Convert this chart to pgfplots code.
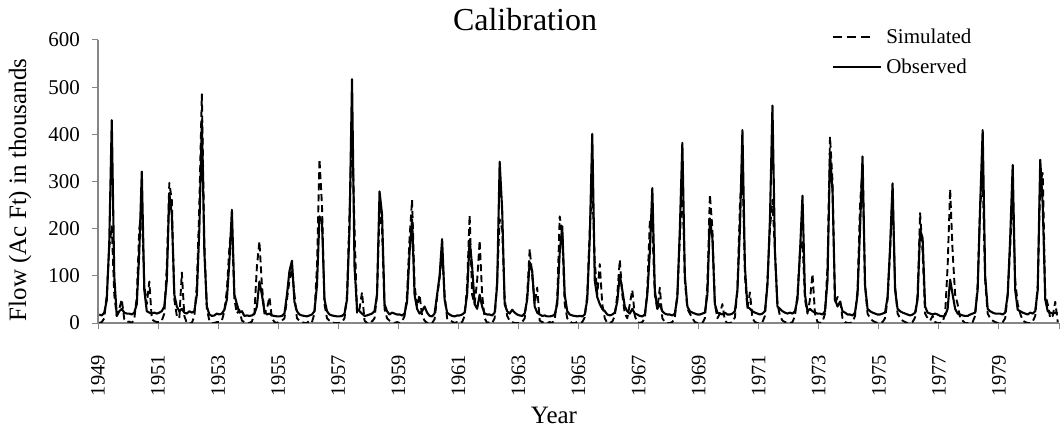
\documentclass[border=0pt]{standalone}
\usepackage{pgfplots}
\pgfplotsset{compat=1.18}
\usepackage{pgfplotstable}
\usepackage{fontspec}
\setmainfont{Liberation Serif}
\definecolor{axgray}{RGB}{134,134,134}

% monthly values, Jan 1949 - Dec 1980, one year per line: obs sim
\pgfplotstableread[row sep=\\]{
obs sim\\
18 0\\ 16 2\\ 22 10\\ 48 60\\ 170 160\\ 430 205\\ 100 60\\ 15 15\\ 25 30\\ 30 50\\ 22 8\\ 20 2\\
20 3\\ 18 0\\ 22 8\\ 40 55\\ 150 200\\ 321 240\\ 70 80\\ 25 40\\ 22 88\\ 20 8\\ 22 4\\ 20 2\\
22 2\\ 25 5\\ 35 20\\ 90 120\\ 275 297\\ 230 260\\ 60 50\\ 35 15\\ 25 10\\ 30 107\\ 22 15\\ 20 0\\
25 0\\ 22 0\\ 25 15\\ 60 80\\ 200 250\\ 430 485\\ 150 170\\ 35 30\\ 18 5\\ 15 0\\ 16 0\\ 20 2\\
18 2\\ 20 5\\ 28 25\\ 50 70\\ 130 160\\ 240 210\\ 60 50\\ 40 20\\ 22 28\\ 25 5\\ 15 2\\ 16 0\\
15 0\\ 16 3\\ 20 20\\ 35 120\\ 88 173\\ 60 80\\ 25 20\\ 18 30\\ 20 55\\ 16 10\\ 15 2\\ 14 0\\
14 3\\ 15 5\\ 20 10\\ 60 50\\ 110 90\\ 132 115\\ 45 60\\ 25 10\\ 18 5\\ 16 2\\ 15 0\\ 14 0\\
16 5\\ 18 2\\ 25 20\\ 80 120\\ 226 347\\ 215 250\\ 50 40\\ 25 10\\ 18 5\\ 16 2\\ 15 0\\ 14 0\\
14 0\\ 15 2\\ 20 10\\ 50 60\\ 200 230\\ 517 416\\ 120 200\\ 30 20\\ 25 30\\ 20 65\\ 15 5\\ 16 0\\
18 5\\ 20 3\\ 25 10\\ 60 60\\ 279 240\\ 230 200\\ 40 30\\ 25 10\\ 18 5\\ 22 2\\ 20 0\\ 18 2\\
18 0\\ 16 3\\ 20 15\\ 45 60\\ 150 180\\ 220 261\\ 60 80\\ 30 35\\ 20 60\\ 25 15\\ 35 5\\ 22 0\\
15 2\\ 14 0\\ 20 8\\ 60 55\\ 100 95\\ 178 150\\ 50 60\\ 22 10\\ 18 5\\ 15 3\\ 14 0\\ 16 2\\
16 0\\ 18 2\\ 22 15\\ 60 80\\ 176 229\\ 120 60\\ 40 40\\ 30 90\\ 60 175\\ 35 60\\ 20 10\\ 18 0\\
18 2\\ 16 0\\ 22 10\\ 80 90\\ 342 220\\ 240 200\\ 40 50\\ 25 15\\ 20 5\\ 28 2\\ 22 0\\ 18 0\\
16 0\\ 15 2\\ 20 10\\ 50 60\\ 129 157\\ 110 100\\ 35 40\\ 22 75\\ 18 5\\ 15 2\\ 16 0\\ 14 0\\
14 2\\ 15 0\\ 18 8\\ 40 50\\ 150 226\\ 205 190\\ 60 40\\ 25 10\\ 18 3\\ 16 0\\ 15 0\\ 14 2\\
15 0\\ 14 2\\ 18 12\\ 50 60\\ 180 200\\ 401 291\\ 90 130\\ 55 60\\ 40 125\\ 30 40\\ 25 10\\ 18 0\\
16 0\\ 18 3\\ 22 15\\ 45 60\\ 102 134\\ 70 60\\ 35 20\\ 25 10\\ 20 40\\ 30 70\\ 20 15\\ 18 2\\
15 0\\ 14 2\\ 18 10\\ 60 70\\ 150 215\\ 286 200\\ 70 60\\ 30 30\\ 40 75\\ 25 10\\ 20 2\\ 18 0\\
18 0\\ 16 2\\ 20 12\\ 55 60\\ 200 180\\ 382 300\\ 100 90\\ 35 30\\ 25 20\\ 22 10\\ 20 2\\ 18 0\\
18 2\\ 20 0\\ 22 10\\ 60 80\\ 222 272\\ 180 200\\ 40 40\\ 22 10\\ 20 20\\ 18 40\\ 22 5\\ 18 0\\
18 0\\ 20 2\\ 25 12\\ 70 70\\ 200 250\\ 409 333\\ 120 100\\ 35 30\\ 30 65\\ 25 10\\ 22 2\\ 20 0\\
18 0\\ 20 2\\ 25 15\\ 80 90\\ 220 200\\ 461 261\\ 150 150\\ 35 40\\ 30 15\\ 25 5\\ 22 2\\ 20 0\\
22 0\\ 20 2\\ 25 15\\ 50 60\\ 150 150\\ 270 173\\ 60 50\\ 25 20\\ 30 50\\ 25 104\\ 22 20\\ 20 2\\
20 0\\ 18 2\\ 25 20\\ 90 120\\ 360 395\\ 280 300\\ 50 40\\ 35 55\\ 45 50\\ 25 10\\ 22 2\\ 18 0\\
18 0\\ 16 2\\ 22 15\\ 60 70\\ 200 250\\ 353 332\\ 80 80\\ 30 20\\ 25 10\\ 22 5\\ 20 2\\ 18 0\\
18 0\\ 20 2\\ 22 10\\ 55 50\\ 160 150\\ 296 280\\ 70 80\\ 30 20\\ 25 10\\ 22 5\\ 20 2\\ 18 0\\
16 0\\ 18 2\\ 22 12\\ 50 60\\ 198 233\\ 180 150\\ 35 20\\ 22 10\\ 20 5\\ 18 15\\ 20 2\\ 18 0\\
15 0\\ 14 2\\ 16 20\\ 30 120\\ 92 284\\ 60 150\\ 30 60\\ 20 40\\ 18 10\\ 16 5\\ 15 0\\ 15 0\\
18 0\\ 20 2\\ 22 15\\ 70 80\\ 250 250\\ 409 304\\ 100 90\\ 30 20\\ 25 10\\ 22 5\\ 20 2\\ 20 0\\
20 0\\ 18 2\\ 22 10\\ 60 60\\ 180 160\\ 335 280\\ 70 90\\ 28 40\\ 25 20\\ 22 5\\ 20 2\\ 18 0\\
22 0\\ 20 3\\ 25 15\\ 70 80\\ 346 300\\ 250 318\\ 50 60\\ 25 40\\ 22 10\\ 20 15\\ 22 45\\ 20 2\\
}\flowdata

\begin{document}
\begin{tikzpicture}
\useasboundingbox (0,0) rectangle (1063bp,431bp);
\begin{axis}[
  at={(98bp,108bp)}, anchor=south west,
  scale only axis, width=961bp, height=283bp,
  xmin=1949, xmax=1981, ymin=0, ymax=600,
  axis lines=left,
  axis line style={-, axgray, line width=1.2bp},
  xtick={1949,1951,...,1981},
  xticklabels={1949,1951,1953,1955,1957,1959,1961,1963,1965,1967,1969,1971,1973,1975,1977,1979,{}},
  ytick={0,100,...,600},
  tick align=outside, major tick length=6bp,
  tick style={axgray, line width=1bp},
  xticklabel style={rotate=90, anchor=east, inner sep=0pt, font=\fontsize{20.5bp}{24bp}\selectfont},
  yticklabel style={anchor=east, inner sep=0pt, font=\fontsize{21bp}{24bp}\selectfont},
  xticklabel shift=26bp,
  yticklabel shift=12bp,
  /pgf/number format/assume math mode=true,
  legend cell align=left,
  legend style={at={(0.7638,1.044)}, anchor=north west, draw=none, fill=none,
    inner sep=0pt, row sep=12bp, nodes={inner sep=1bp},
    font=\fontsize{21bp}{24bp}\selectfont,
    /tikz/every odd column/.append style={column sep=3bp}},
]
\addplot[black, line width=1.9bp, dash pattern=on 7bp off 4bp, line join=round,
  legend image code/.code={\draw[black, line width=1.9bp, dash pattern=on 9bp off 5bp] (0bp,0bp) -- (37bp,0bp);}]
  table[x expr={1949+(\coordindex+0.5)/12}, y=sim]{\flowdata};
\addlegendentry{Simulated}
\addplot[black, line width=2.1bp, line join=round,
  legend image code/.code={\draw[black, line width=2.1bp] (0bp,0bp) -- (48bp,0bp);}]
  table[x expr={1949+(\coordindex+0.5)/12}, y=obs]{\flowdata};
\addlegendentry{Observed}
\end{axis}
\node[font=\fontsize{32bp}{36bp}\selectfont, anchor=base] at (525bp,400bp) {Calibration};
\node[rotate=90, font=\fontsize{25bp}{28bp}\selectfont] at (20bp,241bp) {Flow (Ac Ft) in thousands};
\node[font=\fontsize{25bp}{28bp}\selectfont, anchor=base] at (554bp,8bp) {Year};
\end{tikzpicture}
\end{document}
